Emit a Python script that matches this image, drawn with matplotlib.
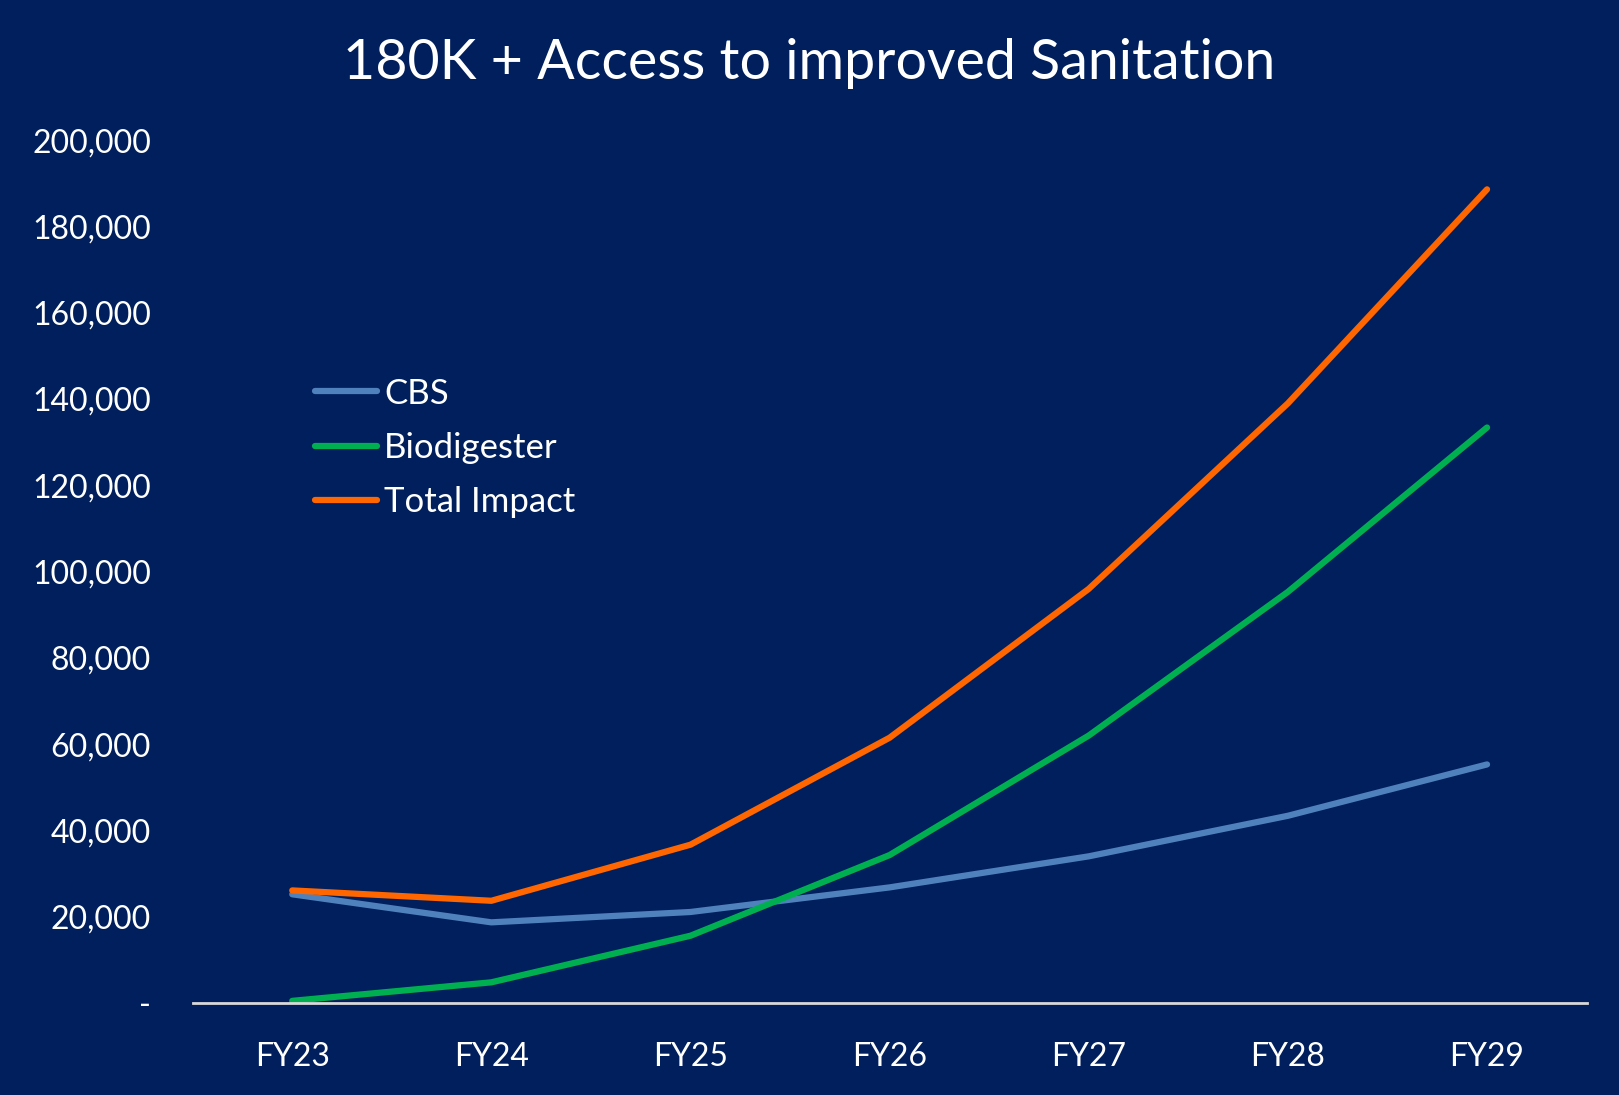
import matplotlib.pyplot as plt
from matplotlib.ticker import FuncFormatter

years = ['FY23', 'FY24', 'FY25', 'FY26', 'FY27', 'FY28', 'FY29']
cbs = [25200, 18700, 21100, 26800, 34000, 43400, 55300]
biodigester = [500, 4800, 15600, 34300, 62000, 95300, 133400]
total_impact = [26100, 23700, 36700, 61500, 96000, 139000, 188600]

BG = '#001F5C'
plt.rcParams['font.family'] = ['Lato', 'DejaVu Sans']

fig = plt.figure(figsize=(16.19, 10.95), dpi=100, facecolor=BG)
ax = fig.add_axes([0.119, 0.084, 0.861, 0.788], facecolor=BG)

x = range(len(years))
ax.plot(x, cbs, color='#4F81BD', lw=4.5, solid_capstyle='round', label='CBS')
ax.plot(x, biodigester, color='#00B050', lw=4.5, solid_capstyle='round', label='Biodigester')
ax.plot(x, total_impact, color='#FF6600', lw=4.5, solid_capstyle='round', label='Total Impact')

ax.set_xlim(-0.5, len(years) - 0.5)
ax.set_ylim(0, 200000)
ax.set_xticks(list(x))
ax.set_xticklabels(years)
ax.set_yticks(range(0, 200001, 20000))
ax.yaxis.set_major_formatter(FuncFormatter(lambda v, p: '-' if v == 0 else f'{int(v):,}'))
ax.tick_params(colors='white', labelsize=23, length=0)
ax.tick_params(axis='x', pad=28)
ax.tick_params(axis='y', pad=30)

for side in ['top', 'right', 'left']:
    ax.spines[side].set_visible(False)
ax.spines['bottom'].set_color('#D9D9D9')
ax.spines['bottom'].set_linewidth(2)

leg = ax.legend(loc='upper left', bbox_to_anchor=(0.065, 0.761), frameon=False,
                fontsize=25, labelcolor='white', handlelength=1.8,
                handletextpad=0.2, labelspacing=0.64)

fig.text(0.5, 0.942, '180K + Access to improved Sanitation', color='white',
         fontsize=40, ha='center', va='center')

fig.savefig('out.png', facecolor=BG)
